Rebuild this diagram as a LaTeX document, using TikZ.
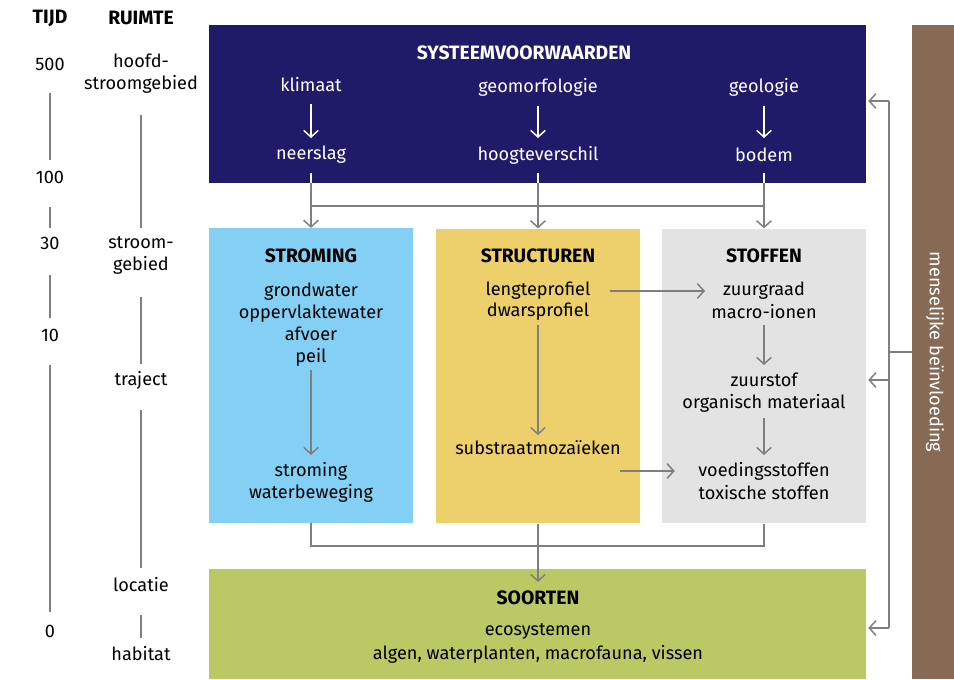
\documentclass[tikz,border=0pt]{standalone}
\usepackage{fontspec}
\setmainfont{Fira Sans}
\usepackage{xcolor}
\usepackage{tikz}
\usetikzlibrary{arrows.meta}

\definecolor{sysblue}{HTML}{201B69}
\definecolor{stromblue}{HTML}{84D0F5}
\definecolor{structyellow}{HTML}{EDD06B}
\definecolor{stofgray}{HTML}{E3E3E3}
\definecolor{soortgreen}{HTML}{BBC964}
\definecolor{mensbrown}{HTML}{876A54}
\definecolor{flowgray}{HTML}{7F7F7F}

\begin{document}
\begin{tikzpicture}[x=0.75pt,y=-0.75pt,
  every node/.style={font=\fontsize{13.6}{16.5}\selectfont, align=center, inner sep=1pt},
  title/.style={font=\fontsize{14.5}{16.5}\selectfont\bfseries},
  box/.style={rectangle, inner sep=0pt, minimum width=153pt, minimum height=221pt},
  flow/.style={draw=flowgray, line width=1.1pt},
  tick/.style={draw=flowgray, line width=1.1pt},
  >={Straight Barb[length=5pt,width=11pt]}]
\useasboundingbox (0,0) rectangle (954,679);

% boxes
\node[box, fill=sysblue, minimum width=492.75pt, minimum height=118.5pt] (sys) at (537.5,104) {};
\node[box, fill=stromblue] (strom) at (311,375.5) {};
\node[box, fill=structyellow] (struct) at (538,376) {};
\node[box, fill=stofgray] (stof) at (764,376) {};
\node[box, fill=soortgreen, minimum width=492.75pt, minimum height=82.5pt] (soort) at (537.5,624) {};
\node[box, fill=mensbrown, minimum width=31.5pt, minimum height=490.5pt] (mens) at (933,352) {};
\node[white, rotate=-90] (menstext) at (935,352) {menselijke beïnvloeding};

% time and space scale
\node[title] (tijd) at (50,18) {TIJD};
\node[title] (ruimte) at (141,18) {RUIMTE};
\node (t500) at (50,64) {500};
\node (t100) at (50,177) {100};
\node (t30) at (50,243) {30};
\node (t10) at (50,335) {10};
\node (t0) at (50,631) {0};
\node (hoofd) at (141,74) {hoofd-\\stroomgebied};
\node (stroomg) at (141,255.5) {stroom-\\gebied};
\node (traject) at (141,380) {traject};
\node (locatie) at (141,585) {locatie};
\node (habitat) at (141,654) {habitat};
\draw[tick, shorten <=21.75pt, shorten >=12.75pt] (t500.center) -- (t100.center);
\draw[tick, shorten <=22.5pt, shorten >=11.25pt] (t100.center) -- (t30.center);
\draw[tick, shorten <=24pt, shorten >=12.75pt] (t30.center) -- (t10.center);
\draw[tick, shorten <=22.5pt, shorten >=14.25pt] (t10.center) -- (t0.center);
\draw[tick, shorten <=30.75pt, shorten >=20.6pt] (hoofd.center) -- (stroomg.center);
\draw[tick, shorten <=31.1pt, shorten >=12pt] (stroomg.center) -- (traject.center);
\draw[tick, shorten <=22.5pt, shorten >=12.75pt] (traject.center) -- (locatie.center);
\draw[tick, shorten <=22.5pt, shorten >=12pt] (locatie.center) -- (habitat.center);

% systeemvoorwaarden
\node[title, white] (systeem) at (524,53) {SYSTEEMVOORWAARDEN};
\node[white] (klimaat) at (311,85) {klimaat};
\node[white] (neerslag) at (311,155) {neerslag};
\node[white] (geomorf) at (538,87) {geomorfologie};
\node[white] (hoogte) at (538,155) {hoogteverschil};
\node[white] (geologie) at (764,87) {geologie};
\node[white] (bodem) at (764,155) {bodem};
\foreach \a/\b in {klimaat/neerslag, geomorf/hoogte, geologie/bodem}
  \draw[white, line width=1.1pt, ->, shorten <=14pt, shorten >=12.75pt] (\a.center) -- (\b.center);

% into the three middle boxes
\coordinate (split) at (538,206);
\foreach \a/\b in {neerslag/strom, hoogte/struct, bodem/stof} {
  \draw[white, line width=1.1pt, shorten <=13.5pt] (\a.center) -- (\a.center |- sys.south);
  \draw[flow, ->] (\a.center |- sys.south) -- (\a.center |- \b.north);
}
\draw[flow] (neerslag |- split) -- (bodem |- split);

% stroming
\node[title] (stroming) at (311,256) {STROMING};
\node (water) at (311,324.5) {grondwater\\oppervlaktewater\\afvoer\\peil};
\node (beweging) at (311,482) {stroming\\waterbeweging};
\draw[flow, ->, shorten <=34.1pt, shorten >=20.25pt] (water.center) -- (beweging.center);

% structuren
\node[title] (structuren) at (538,256) {STRUCTUREN};
\node (lengte) at (538,291) {lengteprofiel};
\node (dwars) at (538,312) {dwarsprofiel};
\node (substraat) at (538,448) {substraatmozaïeken};
\draw[flow, ->, shorten <=9.75pt, shorten >=9.75pt] (dwars.center) -- (substraat.center);

% stoffen
\node[title] (stoffen) at (764,256) {STOFFEN};
\node (zuur) at (764,291) {zuurgraad};
\node (ionen) at (764,312) {macro-ionen};
\node (zuurstof) at (764,380) {zuurstof};
\node (organisch) at (764,403) {organisch materiaal};
\node (voed) at (764,471) {voedingsstoffen};
\node (toxisch) at (764,493) {toxische stoffen};
\draw[flow, ->, shorten <=9.75pt, shorten >=11.25pt] (ionen.center) -- (zuurstof.center);
\draw[flow, ->, shorten <=11.25pt, shorten >=12pt] (organisch.center) -- (voed.center);

% links structuren -> stoffen
\draw[flow, ->, shorten <=54pt, shorten >=44.25pt] (lengte.center) -- (zuur.center);
\draw[flow, ->, shorten <=-2pt, shorten >=16.5pt] (substraat.east |- voed.center) -- (voed.west);

% soorten
\node[title] (soorten) at (538,598) {SOORTEN};
\node (eco) at (538,631) {ecosystemen};
\node (algen) at (538,654) {algen, waterplanten, macrofauna, vissen};
\coordinate (merge) at (538,546);
\draw[flow] (water |- strom.south) |- (merge) -| (voed |- stof.south);
\draw[flow, ->, shorten >=12pt] (struct.south) -- (soorten.center);

% menselijke beinvloeding
\coordinate (fbtop) at (889,101);
\coordinate (fbin) at (889,352);
\coordinate (fbmid) at (889,380);
\coordinate (fbbot) at (889,628);
\draw[flow] (fbtop) -- (fbbot);
\draw[flow] (mens.west |- fbin) -- (fbin);
\draw[flow, ->, shorten >=1.5pt] (fbtop) -- (sys.east |- fbtop);
\draw[flow, ->, shorten >=1.5pt] (fbmid) -- (stof.east |- fbmid);
\draw[flow, ->, shorten >=1.5pt] (fbbot) -- (soort.east |- fbbot);
\end{tikzpicture}
\end{document}
